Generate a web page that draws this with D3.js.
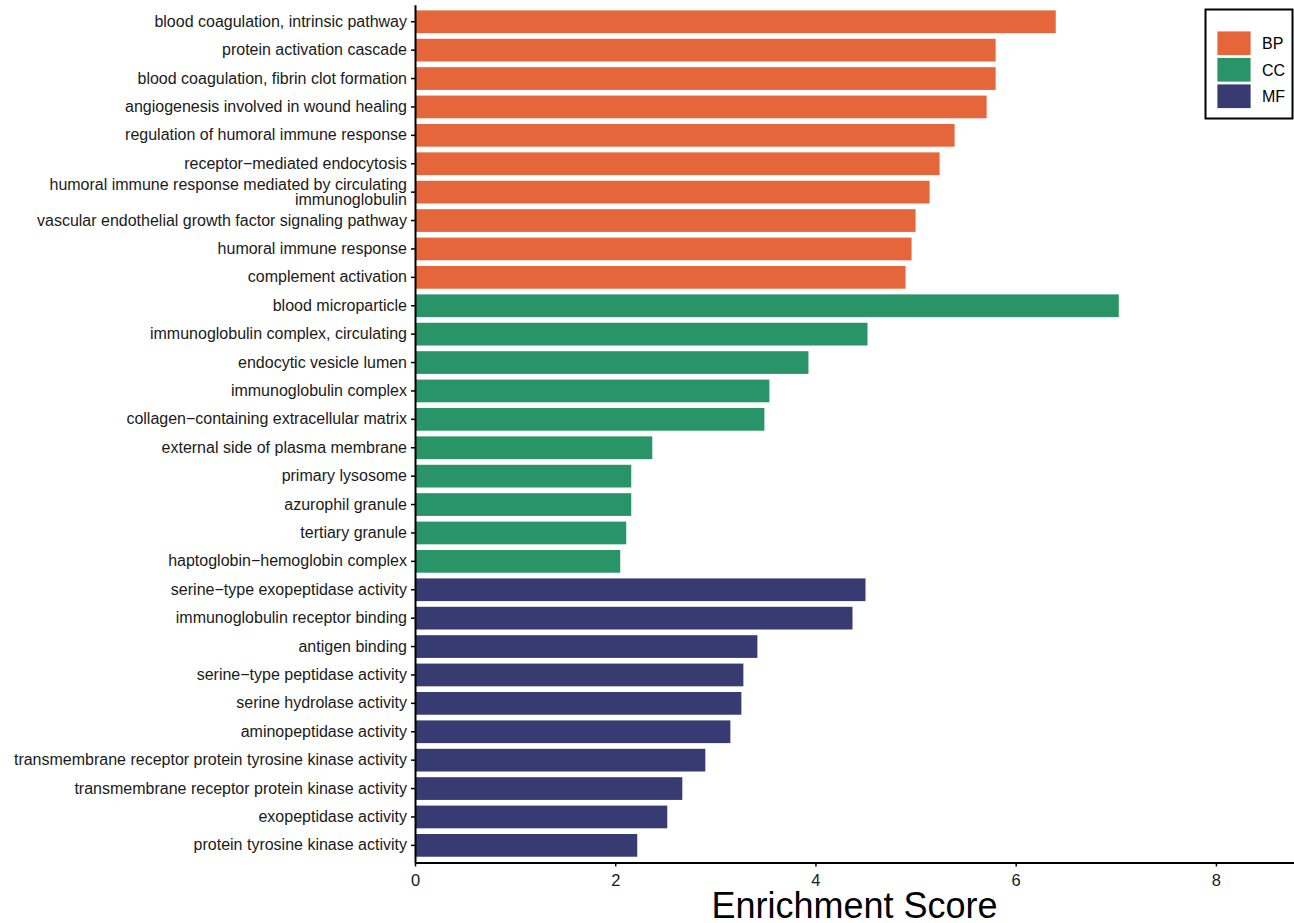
<!DOCTYPE html>
<html>
<head>
<meta charset="utf-8">
<script src="https://cdn.jsdelivr.net/npm/d3@7"></script>
<style>
  html, body { margin: 0; padding: 0; background: #fff; }
  svg { display: block; }
  text { font-family: "Liberation Sans", Arial, Helvetica, sans-serif; }
</style>
</head>
<body>
<svg id="chart" width="1294" height="923"></svg>
<script>
const categories = [
  "blood coagulation, intrinsic pathway",
  "protein activation cascade",
  "blood coagulation, fibrin clot formation",
  "angiogenesis involved in wound healing",
  "regulation of humoral immune response",
  "receptor\u2212mediated endocytosis",
  "humoral immune response mediated by circulating\nimmunoglobulin",
  "vascular endothelial growth factor signaling pathway",
  "humoral immune response",
  "complement activation",
  "blood microparticle",
  "immunoglobulin complex, circulating",
  "endocytic vesicle lumen",
  "immunoglobulin complex",
  "collagen\u2212containing extracellular matrix",
  "external side of plasma membrane",
  "primary lysosome",
  "azurophil granule",
  "tertiary granule",
  "haptoglobin\u2212hemoglobin complex",
  "serine\u2212type exopeptidase activity",
  "immunoglobulin receptor binding",
  "antigen binding",
  "serine\u2212type peptidase activity",
  "serine hydrolase activity",
  "aminopeptidase activity",
  "transmembrane receptor protein tyrosine kinase activity",
  "transmembrane receptor protein kinase activity",
  "exopeptidase activity",
  "protein tyrosine kinase activity"
];
const values = [
  6.40, 5.80, 5.80, 5.71, 5.39, 5.24, 5.14, 5.00, 4.96, 4.90,
  7.03, 4.52, 3.93, 3.54, 3.49, 2.37, 2.16, 2.16, 2.11, 2.05,
  4.50, 4.37, 3.42, 3.28, 3.26, 3.15, 2.90, 2.67, 2.52, 2.22
];
const groups = [
  "BP","BP","BP","BP","BP","BP","BP","BP","BP","BP",
  "CC","CC","CC","CC","CC","CC","CC","CC","CC","CC",
  "MF","MF","MF","MF","MF","MF","MF","MF","MF","MF"
];
const groupNames = ["BP", "CC", "MF"];
const groupColors = ["#E5663A", "#299467", "#383A72"];
const xTicks = [0, 2, 4, 6, 8];
const xTitle = "Enrichment Score";

const data = categories.map((c, i) => ({ cat: c, value: values[i], group: groups[i] }));

const svg = d3.select("#chart");
const mLeft = 415, mRight = 1294, mTop = 4.7, mBottom = 862.4;

const x = d3.scaleLinear().domain([0, 8.78]).range([mLeft, mRight]);
const y = d3.scaleBand().domain(categories).range([mTop, mBottom]).paddingInner(0.2).paddingOuter(0.2);
const color = d3.scaleOrdinal().domain(groupNames).range(groupColors);

// bars
svg.append("g").selectAll("rect").data(data).join("rect")
  .attr("x", x(0))
  .attr("y", d => y(d.cat))
  .attr("width", d => x(d.value) - x(0))
  .attr("height", y.bandwidth())
  .attr("fill", d => color(d.group));

// y axis
const yAxis = d3.axisLeft(y).tickSize(4).tickSizeOuter(0).tickPadding(4);
const gy = svg.append("g").attr("transform", `translate(${mLeft},0)`).call(yAxis);
gy.select(".domain").attr("stroke", "#000").attr("stroke-width", 2);
gy.selectAll(".tick line").attr("stroke", "#000").attr("stroke-width", 1.5);
gy.selectAll(".tick text")
  .attr("fill", "#1a1a1a")
  .style("font-size", "16px")
  .each(function(d) {
    const lines = d.split("\n");
    const t = d3.select(this);
    if (lines.length > 1) {
      t.text(null);
      t.attr("dy", null);
      lines.forEach((ln, i) => {
        t.append("tspan").attr("x", -8)
          .attr("dy", i === 0 ? `${-0.5 * (lines.length - 1) * 0.95 + 0.32}em` : "0.95em")
          .text(ln);
      });
    }
  });

// x axis
const xAxis = d3.axisBottom(x).tickValues(xTicks).tickSize(4).tickSizeOuter(0).tickPadding(8);
const gx = svg.append("g").attr("transform", `translate(0,${mBottom})`).call(xAxis);
gx.select(".domain").attr("stroke", "#000").attr("stroke-width", 2);
gx.selectAll(".tick line").attr("stroke", "#000").attr("stroke-width", 1.5);
gx.selectAll(".tick text").attr("fill", "#1a1a1a").style("font-size", "16.5px");

// x title
svg.append("text")
  .attr("x", (mLeft + mRight) / 2)
  .attr("y", 918)
  .attr("text-anchor", "middle")
  .style("font-size", "36px")
  .attr("fill", "#000")
  .text(xTitle);

// legend
const lg = svg.append("g");
lg.append("rect").attr("x", 1205.5).attr("y", 9.5).attr("width", 87).attr("height", 109)
  .attr("fill", "#fff").attr("stroke", "#000").attr("stroke-width", 2);
groupNames.forEach((g, i) => {
  lg.append("rect").attr("x", 1217).attr("y", 31 + i * 26.5).attr("width", 34).attr("height", 24.5)
    .attr("fill", color(g)).attr("stroke", "#fff").attr("stroke-width", 0.8);
  lg.append("text").attr("x", 1262).attr("y", 43.5 + i * 26.5).attr("dy", "0.35em")
    .style("font-size", "16px").attr("fill", "#000").text(g);
});
</script>
</body>
</html>
